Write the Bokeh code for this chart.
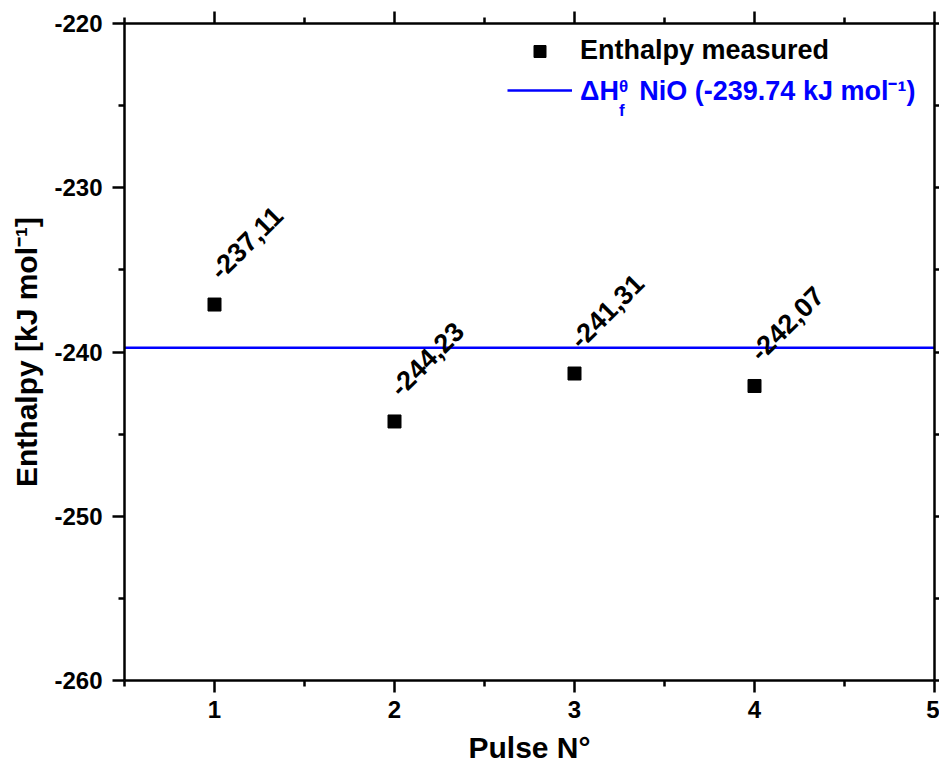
import math
from bokeh.plotting import figure
from bokeh.models import (LinearAxis, FixedTicker, Legend, LegendItem, Label,
                          CustomJSTickFormatter, Range1d, ColumnDataSource)
from bokeh.core.properties import value
from bokeh.embed import file_html
from bokeh.resources import INLINE

# ---------------- data ----------------
pulses = [1, 2, 3, 4]
enthalpy = [-237.11, -244.23, -241.31, -242.07]
point_labels = ["-237,11", "-244,23", "-241,31", "-242,07"]
ref_value = -239.74
x_limits = [0.5, 5.0]
y_limits = [-260, -220]
x_ticks = [1, 2, 3, 4, 5]
x_minor = [0.5, 1.5, 2.5, 3.5, 4.5]
y_ticks = [-260, -250, -240, -230, -220]
y_minor = [-255, -245, -235, -225]

FONT = "Liberation Sans"
BLUE = "#0000FF"

p = figure(width=939, height=771, output_backend="svg", toolbar_location=None,
           x_range=Range1d(*x_limits), y_range=Range1d(*y_limits),
           min_border_left=124, min_border_right=5, min_border_top=23,
           min_border_bottom=91, x_axis_label="Pulse N°",
           y_axis_label="Enthalpy [kJ mol⁻¹]")
p.outline_line_color = None
p.xgrid.visible = False
p.ygrid.visible = False
p.background_fill_color = "white"
p.border_fill_color = "white"

src = ColumnDataSource(dict(x=pulses, y=enthalpy, lab=point_labels))

ref_line = p.line(x=x_limits, y=[ref_value, ref_value], line_color=BLUE, line_width=2.5)
sc = p.scatter("x", "y", source=src, marker="square", size=13,
               fill_color="black", line_color="black")
p.text("x", "y", text="lab", source=src, angle=math.pi / 4,
       x_offset=0, y_offset=-30, text_align="left", text_baseline="alphabetic",
       text_font=value(FONT), text_font_style="bold", text_font_size="27px",
       text_color="black")

int_fmt = CustomJSTickFormatter(code="return tick.toFixed(0)")


def style_axis(ax, labels=True):
    ax.axis_line_width = 2.5
    ax.axis_line_color = "black"
    ax.major_tick_line_width = 2.5
    ax.minor_tick_line_width = 2.5
    ax.major_tick_in = 0
    ax.minor_tick_in = 0
    ax.major_tick_out = 12
    ax.minor_tick_out = 6
    ax.major_label_text_font = FONT
    ax.major_label_text_font_style = "bold"
    ax.major_label_text_font_size = "24px"
    ax.major_label_text_color = "black"
    ax.axis_label_text_font = FONT
    ax.axis_label_text_font_style = "bold"
    ax.axis_label_text_font_size = "30px"
    ax.axis_label_text_color = "black"
    if labels:
        ax.formatter = int_fmt
    else:
        ax.formatter = CustomJSTickFormatter(code="return ''")
        ax.major_label_standoff = 0


xt = FixedTicker(ticks=x_ticks, minor_ticks=x_minor)
yt = FixedTicker(ticks=y_ticks, minor_ticks=y_minor)

for ax in p.xaxis:
    ax.ticker = xt
    style_axis(ax)
    ax.major_label_standoff = 8
    ax.axis_label_standoff = 10
for ax in p.yaxis:
    ax.ticker = yt
    style_axis(ax)
    ax.major_label_standoff = 10
    ax.axis_label_standoff = 8

top_ax = LinearAxis(ticker=xt)
style_axis(top_ax, labels=False)
p.add_layout(top_ax, "above")
right_ax = LinearAxis(ticker=yt)
style_axis(right_ax, labels=False)
right_ax.major_tick_out = 5
right_ax.minor_tick_out = 5
p.add_layout(right_ax, "right")

# ---------------- legend ----------------
common = dict(glyph_width=65, glyph_height=30, label_height=30, label_standoff=8,
              padding=0, margin=0, spacing=0, border_line_color=None,
              background_fill_alpha=0, label_text_font=FONT,
              label_text_font_style="bold", label_text_font_size="27px")
leg_a = Legend(items=[LegendItem(label="Enthalpy measured", renderers=[sc])],
               location=(383, 614), label_text_color="black", **common)
leg_b = Legend(items=[LegendItem(label="ΔH\u00a0\u00a0\u2009NiO (-239.74 kJ mol⁻¹)",
                                 renderers=[ref_line])],
               location=(383, 572), label_text_color=BLUE, **common)
p.add_layout(leg_a, "center")
p.add_layout(leg_b, "center")

p.add_layout(Label(x=3.247, y=-223.85, text="θ", text_font=FONT,
                   text_font_style="bold", text_font_size="17px",
                   text_color=BLUE, text_baseline="alphabetic"))
p.add_layout(Label(x=3.247, y=-225.3, text="f", text_font=FONT,
                   text_font_style="bold", text_font_size="17px",
                   text_color=BLUE, text_baseline="alphabetic"))

open("out.html", "w").write(file_html(p, INLINE))
